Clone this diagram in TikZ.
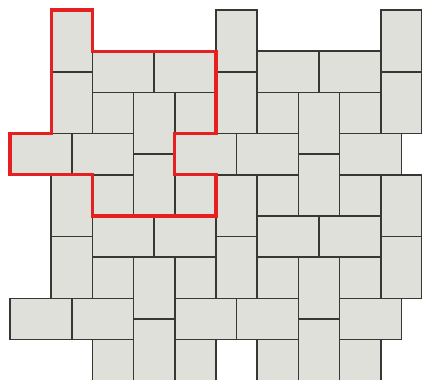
\documentclass[tikz,border=0pt]{standalone}
\definecolor{tilegray}{RGB}{224,224,219}
\definecolor{tileedge}{RGB}{55,55,52}
\definecolor{outlinered}{RGB}{230,32,32}
\begin{document}
\begin{tikzpicture}[x=0.5cm,y=-0.5cm,
  tile/.style={fill=tilegray,draw=tileedge,line width=1.2pt},
  outline/.style={draw=outlinered,line width=2.2pt,line join=miter}]
\useasboundingbox (-0.485,-0.485) rectangle (20,17.913);
\clip (-0.485,-0.485) rectangle (20,17.913);
% fundamental domain of the pattern, repeated
\foreach \dx/\dy in {0/0,8/0,0/8,8/8}{
  \foreach \a/\b/\c/\d in {2/0/4/3, 2/3/4/6, 4/2/7/4, 7/2/10/4, 4/4/6/6, 6/4/8/7,
                           8/4/10/6, 0/6/3/8, 3/6/6/8, 6/7/8/10, 4/8/6/10, 8/8/10/10}{
    \draw[tile] ({\a+\dx},{\b+\dy}) rectangle ({\c+\dx},{\d+\dy});
  }
}
% partial copies at the right edge
\foreach \dy in {0,8}{
  \foreach \a/\b/\c/\d in {2/0/4/3, 2/3/4/6, 0/6/3/8}{
    \draw[tile] ({\a+16},{\b+\dy}) rectangle ({\c+16},{\d+\dy});
  }
}
% red outline of one repeating unit
\draw[outline] (2,0) -- (4,0) -- (4,2) -- (10,2) -- (10,6) -- (8,6) -- (8,8)
  -- (10,8) -- (10,10) -- (4,10) -- (4,8) -- (0,8) -- (0,6) -- (2,6) -- cycle;
\end{tikzpicture}
\end{document}
